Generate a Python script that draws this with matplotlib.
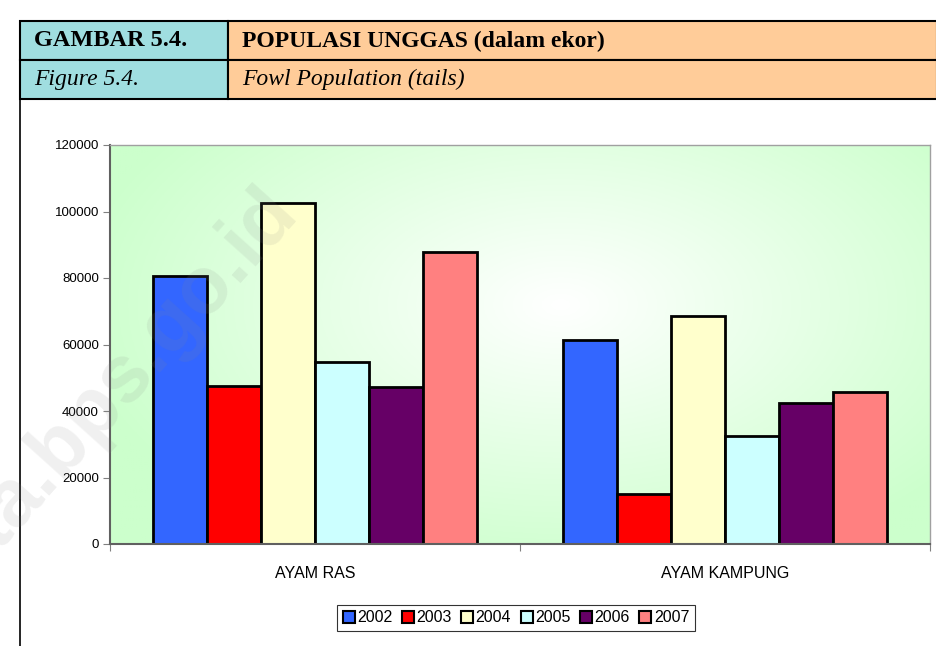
import numpy as np
import matplotlib.pyplot as plt
from matplotlib.patches import Rectangle
from matplotlib.lines import Line2D

# data
categories = ["AYAM RAS", "AYAM KAMPUNG"]
years = ["2002", "2003", "2004", "2005", "2006", "2007"]
v2002 = [80500, 61300]
v2003 = [47400, 15000]
v2004 = [102700, 68500]
v2005 = [54700, 32500]
v2006 = [47300, 42300]
v2007 = [87700, 45600]
series = [v2002, v2003, v2004, v2005, v2006, v2007]
colors = ["#3366FF", "#FF0000", "#FFFFCC", "#CCFFFF", "#660066", "#FF8080"]

W, H = 937, 646
fig = plt.figure(figsize=(W / 100, H / 100), dpi=100)
plt.rcParams['font.family'] = ['Liberation Sans', 'DejaVu Sans']

def px(x0, y0, w, h):
    # pixel box (top-left origin) -> figure fraction
    return (x0 / W, 1 - (y0 + h) / H, w / W, h / H)

# header table
hdr_font = ['Liberation Serif', 'DejaVu Serif']
for (x0, y0, w, h, c) in [(20, 21, 208, 39, "#A0DEE0"), (228, 21, 709, 39, "#FFCC99"),
                          (20, 60, 208, 39, "#A0DEE0"), (228, 60, 709, 39, "#FFCC99")]:
    b = px(x0, y0, w, h)
    fig.patches.append(Rectangle(b[:2], b[2], b[3], transform=fig.transFigure,
                                 facecolor=c, edgecolor="black", linewidth=1.5, zorder=0))
fig.text(34 / W, 1 - 41 / H, "GAMBAR 5.4.", family=hdr_font, fontsize=17.5, weight="bold", va="center")
fig.text(242 / W, 1 - 41 / H, "POPULASI UNGGAS (dalam ekor)", family=hdr_font, fontsize=17, weight="bold", va="center")
fig.text(34 / W, 1 - 79 / H, "Figure 5.4.", family=hdr_font, fontsize=17, style="italic", va="center")
fig.text(242 / W, 1 - 79 / H, "Fowl Population (tails)", family=hdr_font, fontsize=17, style="italic", va="center")
fig.lines.append(Line2D([20 / W, 20 / W], [1 - 99 / H, 0], transform=fig.transFigure,
                        color="black", linewidth=1.2))

# plot area
ax = fig.add_axes(px(110, 145, 820, 399))
ax.set_xlim(0, 2)
ax.set_ylim(0, 120000)

# background gradient (light centre fading to pale green)
gx, gy = np.meshgrid(np.linspace(0, 1, 300), np.linspace(0, 1, 200))
d = np.sqrt(((gx - 0.55) / 0.6) ** 2 + ((gy - 0.6) / 0.7) ** 2)
t = np.clip(d, 0, 1)[..., None]
img = (1 - t) * np.array([1.0, 1.0, 1.0]) + t * np.array([0.80, 1.0, 0.80])
ax.imshow(img, extent=[0, 2, 0, 120000], aspect="auto", origin="lower", zorder=0)

n = len(series)
bw = 0.79 / n
for i, vals in enumerate(series):
    xs = np.arange(len(categories)) + 0.5 + (i - (n - 1) / 2) * bw
    ax.bar(xs, vals, width=bw, color=colors[i], edgecolor="black", linewidth=2,
           label=years[i], zorder=2)

ax.set_yticks(np.arange(0, 120001, 20000))
ax.set_yticklabels([str(v) for v in range(0, 120001, 20000)], fontsize=9.5)
ax.set_xticks([0, 1, 2])
ax.set_xticklabels([])
ax.set_xticks([0.5, 1.5], minor=True)
ax.set_xticklabels(categories, minor=True, fontsize=11.5)
ax.tick_params(axis="x", which="minor", length=0, pad=16)
ax.tick_params(axis="x", which="major", length=5, color="#808080", direction="out")
ax.tick_params(axis="y", length=5, color="#808080", direction="out", pad=3)
for s in ["top", "right"]:
    ax.spines[s].set_color("#A0A0A0")
    ax.spines[s].set_linewidth(1)
for s in ["left", "bottom"]:
    ax.spines[s].set_color("#606060")
    ax.spines[s].set_linewidth(1.5)

leg = fig.legend(loc="center", bbox_to_anchor=(516 / W, 1 - 618 / H), ncol=6, fontsize=11.5,
                 frameon=True, fancybox=False, edgecolor="black", handlelength=0.75,
                 handleheight=0.75, handletextpad=0.15, columnspacing=0.6, borderpad=0.35)
leg.get_frame().set_linewidth(0.8)
for p in leg.get_patches():
    p.set_linewidth(1.5)

# watermark
fig.text(118 / W, 1 - 385 / H, "sta.bps.go.id", fontsize=58, weight="bold", color="#888888",
         alpha=0.13, rotation=48, ha="center", va="center", zorder=5)

fig.savefig("out.png", dpi=100)
